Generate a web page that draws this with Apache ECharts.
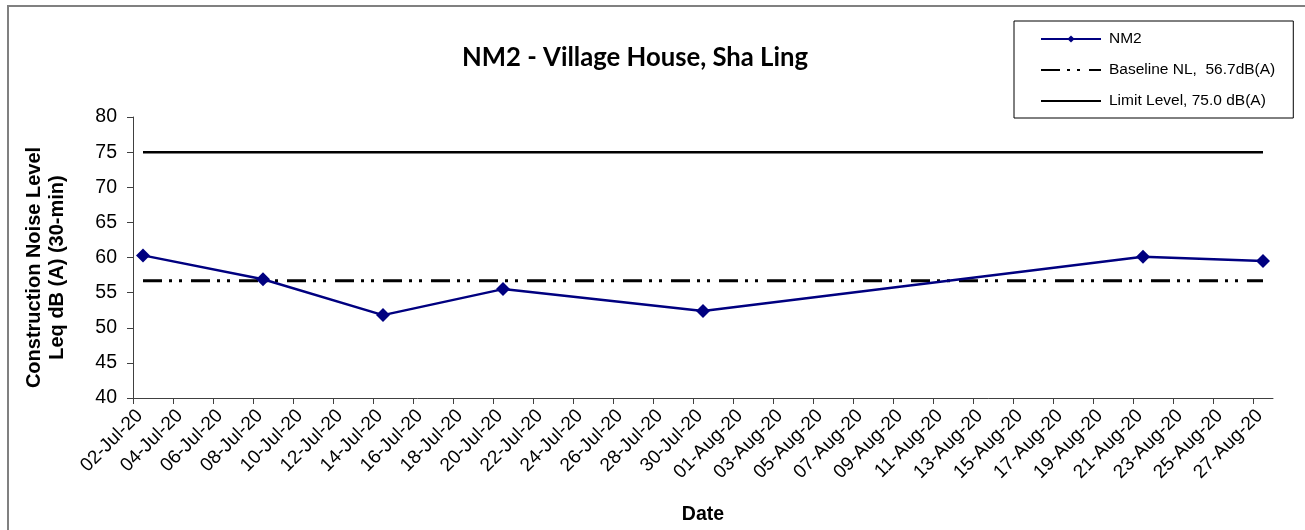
<!DOCTYPE html>
<html>
<head>
<meta charset="utf-8">
<script src="https://cdn.jsdelivr.net/npm/echarts@6/dist/echarts.min.js"></script>
<style>
html,body{margin:0;padding:0;background:#fff;}
#chart{width:1305px;height:530px;}
</style>
</head>
<body>
<div id="chart"></div>
<script>
// ---- data ----
const measureDates = ['02-Jul-20','08-Jul-20','14-Jul-20','20-Jul-20','30-Jul-20','21-Aug-20','27-Aug-20'];
const nm2Values = [60.3, 56.9, 51.8, 55.5, 52.4, 60.1, 59.5];
const baselineLevel = 56.7;
const limitLevel = 75.0;
const tickLabels = ['02-Jul-20','04-Jul-20','06-Jul-20','08-Jul-20','10-Jul-20','12-Jul-20','14-Jul-20','16-Jul-20',
  '18-Jul-20','20-Jul-20','22-Jul-20','24-Jul-20','26-Jul-20','28-Jul-20','30-Jul-20','01-Aug-20','03-Aug-20',
  '05-Aug-20','07-Aug-20','09-Aug-20','11-Aug-20','13-Aug-20','15-Aug-20','17-Aug-20','19-Aug-20','21-Aug-20',
  '23-Aug-20','25-Aug-20','27-Aug-20'];
const axisStart = '02-Jul-20';
const axisEnd = '28-Aug-20';
const seriesNames = ['NM2', 'Baseline NL,  56.7dB(A)', 'Limit Level, 75.0 dB(A)'];

// ---- helpers ----
const MONTHS = {Jan:0,Feb:1,Mar:2,Apr:3,May:4,Jun:5,Jul:6,Aug:7,Sep:8,Oct:9,Nov:10,Dec:11};
function parseDate(s){ const p = s.split('-'); return Date.UTC(2000 + (+p[2]), MONTHS[p[1]], +p[0]); }
const DAY = 86400000;
// Excel date axis places each day's point in the middle of that day's slot
const dayCentre = s => parseDate(s) + DAY / 2;

const tickValues = tickLabels.map(parseDate);
const labelMap = {};
tickLabels.forEach((t, i) => { labelMap[tickValues[i]] = t; });

const nm2Data = measureDates.map((d, i) => [dayCentre(d), nm2Values[i]]);
const firstX = dayCentre(measureDates[0]);
const lastX = dayCentre(measureDates[measureDates.length - 1]);

const FONT = 'Liberation Sans, Arial, sans-serif';
const chart = echarts.init(document.getElementById('chart'), null, {renderer: 'canvas'});
chart.setOption({
  backgroundColor: '#fff',
  animation: false,
  graphic: [{
    type: 'rect', silent: true, z: -1,
    shape: {x: 8, y: 6, width: 1400, height: 600},
    style: {fill: 'none', stroke: '#808080', lineWidth: 2}
  }],
  title: {
    text: 'NM2 - Village House, Sha Ling',
    left: 630, top: 40, textAlign: 'center',
    textStyle: {fontFamily: 'Lato, Open Sans, sans-serif', fontWeight: 'bold', fontSize: 25.7, color: '#000'}
  },
  legend: {
    orient: 'vertical',
    left: 1014, top: 21,
    padding: [10, 18, 9, 26],
    itemWidth: 60, itemHeight: 9, itemGap: 15,
    borderColor: '#000', borderWidth: 1,
    textStyle: {fontFamily: FONT, fontSize: 15.5, color: '#000', padding: [0, 0, 0, 3]},
    data: [
      {name: seriesNames[0]},
      {name: seriesNames[1], itemStyle: {opacity: 0}},
      {name: seriesNames[2], itemStyle: {opacity: 0}}
    ]
  },
  grid: {left: 133, right: 32, top: 117, bottom: 131, containLabel: false},
  xAxis: {
    type: 'value',
    min: parseDate(axisStart), max: parseDate(axisEnd),
    name: 'Date', nameLocation: 'middle', nameGap: 107,
    nameTextStyle: {fontFamily: FONT, fontWeight: 'bold', fontSize: 19.5, color: '#000'},
    axisLine: {show: true, onZero: false, lineStyle: {color: '#404040', width: 1}},
    axisTick: {show: true, length: 6, customValues: tickValues, lineStyle: {color: '#404040'}},
    splitLine: {show: false},
    axisLabel: {
      customValues: tickValues, rotate: 45, margin: 8,
      verticalAlign: 'top',
      fontFamily: FONT, fontSize: 19, color: '#000',
      formatter: v => labelMap[v] || ''
    }
  },
  yAxis: {
    type: 'value', min: 40, max: 80, interval: 5,
    name: 'Construction Noise Level\nLeq dB (A) (30-min)',
    nameLocation: 'middle', nameRotate: 90, nameGap: 64,
    nameTextStyle: {fontFamily: FONT, fontWeight: 'bold', fontSize: 20, color: '#000', lineHeight: 23,
      padding: [0, 20, 0, 0]},
    axisLine: {show: true, lineStyle: {color: '#404040', width: 1}},
    axisTick: {show: true, length: 6, lineStyle: {color: '#404040'}},
    splitLine: {show: false},
    axisLabel: {fontFamily: FONT, fontSize: 19.5, color: '#000', margin: 16}
  },
  series: [
    {
      name: seriesNames[0], type: 'line', data: nm2Data,
      symbol: 'diamond', symbolSize: 14, showSymbol: true,
      lineStyle: {color: '#000080', width: 2.5},
      itemStyle: {color: '#000080'}, z: 5
    },
    {
      name: seriesNames[1], type: 'line',
      data: [[firstX, baselineLevel], [lastX, baselineLevel]],
      symbol: 'none',
      lineStyle: {color: '#000', width: 3, type: [19, 7, 3, 7, 3, 9]},
      itemStyle: {color: '#000'}
    },
    {
      name: seriesNames[2], type: 'line',
      data: [[firstX, limitLevel], [lastX, limitLevel]],
      symbol: 'none',
      lineStyle: {color: '#000', width: 2.5},
      itemStyle: {color: '#000'}
    }
  ]
});
</script>
</body>
</html>
